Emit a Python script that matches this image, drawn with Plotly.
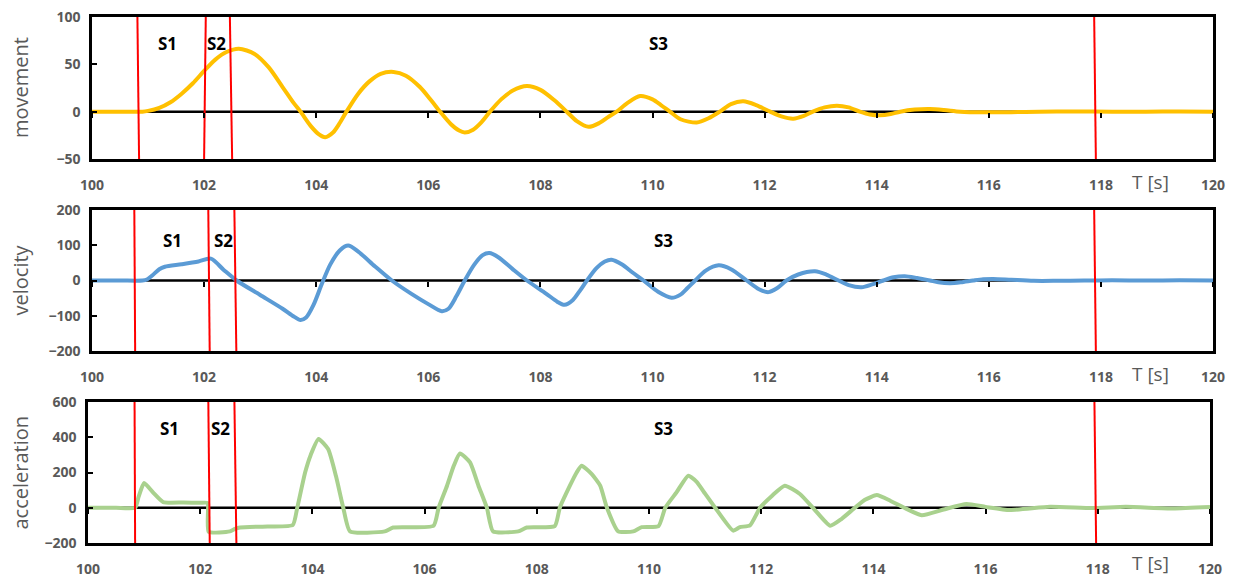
import plotly.graph_objects as go

# ---------------- data ----------------
T_MOV = [100.0, 100.5, 100.9, 101.0, 101.2, 101.4, 101.6, 101.8, 102.0, 102.2, 102.4, 102.62,
         102.9, 103.15, 103.4, 103.6, 103.72, 103.9, 104.05, 104.16, 104.3, 104.42, 104.54,
         104.75, 104.95, 105.15, 105.38, 105.6, 105.85, 106.05, 106.21, 106.4, 106.55, 106.65,
         106.8, 106.95, 107.1, 107.3, 107.5, 107.76, 108.0, 108.25, 108.47, 108.65, 108.86,
         109.05, 109.2, 109.36, 109.55, 109.78, 110.0, 110.15, 110.31, 110.5, 110.79, 111.0,
         111.2, 111.4, 111.62, 111.85, 112.1, 112.3, 112.51, 112.7, 112.86, 113.07, 113.29,
         113.5, 113.7, 113.88, 114.06, 114.25, 114.42, 114.68, 114.95, 115.2, 115.49, 115.9,
         116.4, 116.9, 117.5, 118.2, 118.8, 119.4, 120.0]
MOVEMENT = [0, 0, 0, 0.8, 4, 10, 19, 30, 43, 55, 63, 66.5,
            61, 47, 26, 9, 0, -15, -24, -27, -22, -12, 0,
            19, 32, 40, 42, 38, 26, 12, 0, -13, -20, -22,
            -19, -11, 0, 13, 22, 27, 23, 12, 0, -10, -16,
            -12, -6, 0, 9, 16.5, 13, 7, 0, -8, -11.5, -7,
            0, 8, 11, 7, 0, -5, -7.4, -4.5, 0, 4.5, 6.3,
            4.5, 0, -3, -3.9, -2.5, 0, 2.2, 2.8, 1.8, 0, -0.7,
            -0.5, 0, 0.2, 0, 0, 0.2, 0]

T_VEL = [100.0, 100.5, 100.9, 100.98, 101.08, 101.2, 101.3, 101.6, 101.9, 102.12, 102.35, 102.58,
         103.0, 103.4, 103.6, 103.72, 103.82, 103.95, 104.1, 104.25, 104.42, 104.57, 104.75,
         105.05, 105.35, 105.7, 106.0, 106.24, 106.36, 106.5, 106.65, 106.82, 106.97, 107.09,
         107.25, 107.5, 107.76, 108.1, 108.3, 108.43, 108.58, 108.7, 108.83, 109.0, 109.15,
         109.27, 109.45, 109.65, 109.84, 110.1, 110.34, 110.5, 110.62, 110.76, 110.95, 111.18,
         111.4, 111.68, 111.9, 112.07, 112.22, 112.39, 112.6, 112.9, 113.1, 113.32, 113.5,
         113.73, 113.92, 114.12, 114.3, 114.5, 114.72, 114.95, 115.1, 115.31, 115.5, 115.72,
         115.9, 116.08, 116.4, 116.8, 117.2, 117.7, 118.2, 118.8, 119.4, 120.0]
VELOCITY = [0, 0, 0, 3, 15, 32, 39, 46, 54, 62, 30, 0,
            -41, -80, -102, -112, -105, -70, -10, 45, 85, 99, 82,
            40, 0, -38, -67, -87, -80, -45, 0, 45, 72, 78,
            66, 33, 0, -37, -60, -69, -55, -30, 0, 35, 54,
            59, 46, 22, 0, -32, -49, -40, -22, 0, 28, 43,
            32, 0, -25, -33, -22, 0, 17, 26, 17, 0, -13,
            -19, -11, 0, 9, 12, 7, 0, -5, -7.5, -5, 0,
            3.5, 4.5, 2, -1, -1, 0, 0.5, 0, 0.5, 0]

T_ACC = [100.0, 100.5, 100.84, 100.9, 101.0, 101.17, 101.34, 101.7, 102.0, 102.13, 102.15, 102.53,
         102.62, 102.71, 103.2, 103.65, 103.73, 103.87, 103.97, 104.11, 104.28, 104.42,
         104.55, 104.67, 105.29, 105.44, 106.16, 106.25, 106.4, 106.52, 106.63, 106.81,
         106.96, 107.11, 107.22, 107.67, 107.82, 108.32, 108.41, 108.59, 108.71, 108.8,
         108.98, 109.13, 109.25, 109.45, 109.72, 109.87, 110.17, 110.29, 110.49, 110.7,
         110.85, 111.0, 111.18, 111.5, 111.62, 111.8, 111.98, 112.2, 112.42, 112.69,
         112.95, 113.23, 113.43, 113.67, 113.85, 114.06, 114.3, 114.55, 114.86, 115.25,
         115.66, 116.0, 116.43, 117.15, 117.9, 118.5, 119.34, 120.0]
ACCELERATION = [0, 0, 0, 60, 140, 83, 32, 30, 28, 27, -136, -134,
                -120, -112, -106, -98, 0, 200, 300, 390, 333, 180,
                0, -134, -134, -112, -102, 0, 125, 238, 308, 257,
                125, 0, -134, -134, -112, -104, 0, 125, 200, 238,
                191, 125, 0, -134, -134, -110, -104, 0, 87, 182,
                147, 80, 0, -130, -110, -100, 0, 70, 125, 78,
                -10, -102, -64, 0, 45, 72, 40, 0, -42, -10,
                21, 5, -13, 5, -2, 5, -4, 4]

X_TICKS = [100, 102, 104, 106, 108, 110, 112, 114, 116, 118, 120]

# red phase-boundary lines (x at top edge, x at bottom edge)
RED_TOP_MOV = [100.81, 102.03, 102.46, 117.88]
RED_BOT_MOV = [100.84, 102.00, 102.50, 117.91]
RED_TOP_VEL = [100.755, 102.075, 102.54, 117.88]
RED_BOT_VEL = [100.77, 102.10, 102.575, 117.91]
RED_TOP_ACC = [100.83, 102.145, 102.61, 117.94]
RED_BOT_ACC = [100.84, 102.17, 102.645, 117.97]

S_LABELS = ["S1", "S2", "S3"]
S_X_MOV = [101.34, 102.23, 110.1]
S_X_VEL = [101.43, 102.34, 110.2]
S_X_ACC = [101.46, 102.37, 110.25]
S_Y = [72, 113, 448]

Y_TITLES = ["movement", "velocity", "acceleration"]
Y_RANGES = [[-50, 100], [-200, 200], [-200, 600]]
Y_TICKS = [[-50, 0, 50, 100], [-200, -100, 0, 100, 200], [-200, 0, 200, 400, 600]]
COLORS = ["#FFC000", "#5B9BD5", "#A9D18E"]

# ---------------- layout geometry ----------------
W, H = 1236, 577
X_DOMAINS = [[92 / W, 1213 / W], [92 / W, 1213 / W], [88 / W, 1210 / W]]
Y_PX = [(17, 159), (210, 351), (402, 543)]
Y_DOMAINS = [[1 - b / H, 1 - t / H] for t, b in Y_PX]
T_LABEL_OFFSET = [23, 23, 20]

GRAY = "#595959"
tickfont = dict(family="Open Sans", size=14, color=GRAY, weight="bold")

fig = go.Figure()
layout = dict(width=W, height=H, margin=dict(l=0, r=0, t=0, b=0, autoexpand=False),
              paper_bgcolor="white", plot_bgcolor="white", showlegend=False)

series = [(T_MOV, MOVEMENT, RED_TOP_MOV, RED_BOT_MOV, S_X_MOV, 0.8),
          (T_VEL, VELOCITY, RED_TOP_VEL, RED_BOT_VEL, S_X_VEL, 0.8),
          (T_ACC, ACCELERATION, RED_TOP_ACC, RED_BOT_ACC, S_X_ACC, 0.5)]

annotations = []
for i, (tx, vy, rtop, rbot, sx, smooth) in enumerate(series):
    n = i + 1
    ov = n + 3
    xb = "xaxis" if n == 1 else f"xaxis{n}"
    yb = "yaxis" if n == 1 else f"yaxis{n}"
    xref_b = "x" if n == 1 else f"x{n}"
    yref_b = "y" if n == 1 else f"y{n}"
    ymin, ymax = Y_RANGES[i]
    d0, d1 = Y_DOMAINS[i]
    zero_pos = d0 + (d1 - d0) * (0 - ymin) / (ymax - ymin)

    layout[xb] = dict(domain=X_DOMAINS[i], range=[100, 120], tickvals=X_TICKS,
                      ticks="", showline=True, mirror=True, linecolor="black",
                      linewidth=2.5, showgrid=False, zeroline=False,
                      tickfont=tickfont, anchor=yref_b, ticklabelstandoff=11)
    layout[yb] = dict(domain=Y_DOMAINS[i], range=Y_RANGES[i], tickvals=Y_TICKS[i],
                      ticks="inside", ticklen=5, tickwidth=2, tickcolor="black",
                      showline=True, mirror=True, linecolor="black", linewidth=2.5,
                      showgrid=False, zeroline=False, tickfont=tickfont,
                      anchor=xref_b, ticklabelstandoff=6)
    layout[f"xaxis{ov}"] = dict(overlaying=xref_b, anchor="free", position=zero_pos,
                                range=[100, 120], tickvals=X_TICKS, ticks="outside",
                                ticklen=5, tickwidth=2, tickcolor="black",
                                showticklabels=False, showline=False, showgrid=False,
                                zeroline=False, side="bottom")
    xo = f"x{ov}"
    # zero (category) axis line
    fig.add_trace(go.Scatter(x=[100, 120], y=[0, 0], mode="lines",
                             line=dict(color="black", width=2.5),
                             xaxis=xo, yaxis=yref_b, hoverinfo="skip"))
    # data curve
    fig.add_trace(go.Scatter(x=tx, y=vy, mode="lines",
                             line=dict(color=COLORS[i], width=4, shape="spline",
                                       smoothing=smooth),
                             xaxis=xo, yaxis=yref_b))
    # red boundary lines
    lx, ly = [], []
    for a, b in zip(rtop, rbot):
        lx += [a, b, None]
        ly += [ymax, ymin, None]
    fig.add_trace(go.Scatter(x=lx, y=ly, mode="lines",
                             line=dict(color="#FF0000", width=2),
                             xaxis=xo, yaxis=yref_b, hoverinfo="skip"))
    # S labels
    for lab, x in zip(S_LABELS, sx):
        annotations.append(dict(x=x, y=S_Y[i], xref=xref_b, yref=yref_b, text=lab,
                                showarrow=False, xanchor="center", yanchor="middle",
                                font=dict(family="Open Sans", size=17, color="black",
                                          weight="bold")))
    # y title
    annotations.append(dict(x=20 / W, y=(d0 + d1) / 2, xref="paper", yref="paper",
                            text=Y_TITLES[i], textangle=-90, showarrow=False,
                            xanchor="center", yanchor="middle",
                            font=dict(family="Open Sans", size=20, color=GRAY)))
    # T [s]
    annotations.append(dict(x=1150 / W, y=d0 - T_LABEL_OFFSET[i] / H, xref="paper",
                            yref="paper", text="T [s]", showarrow=False,
                            xanchor="center", yanchor="middle",
                            font=dict(family="Open Sans", size=19, color=GRAY)))

layout["annotations"] = annotations
fig.update_layout(**layout)
fig.write_html("out.html")
